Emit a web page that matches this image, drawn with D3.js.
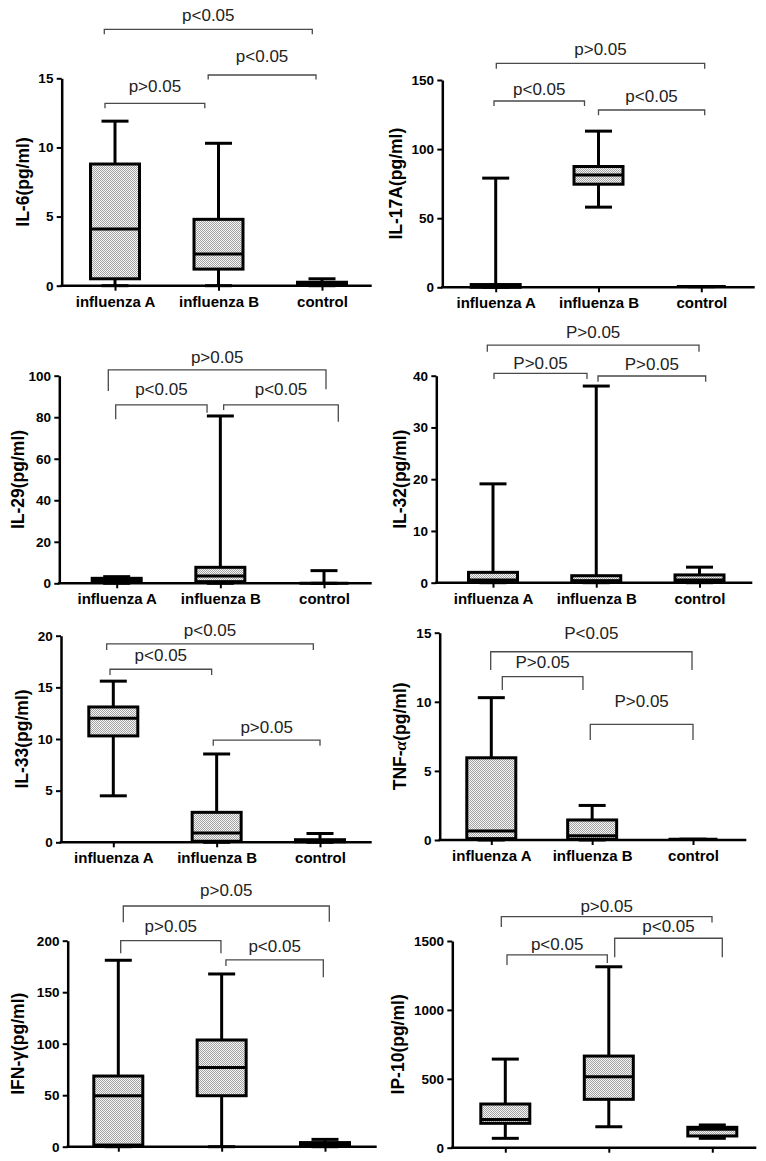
<!DOCTYPE html>
<html><head><meta charset="utf-8">
<script src="https://cdn.jsdelivr.net/npm/d3@7"></script>
<style>body{margin:0;background:#fff}svg{display:block}</style>
</head><body>
<script>
// ---------------- DATA ----------------
const categories = ["influenza A", "influenza B", "control"];
const markers = ["IL-6", "IL-17A", "IL-29", "IL-32", "IL-33", "TNF-α", "IFN-γ", "IP-10"];
const yMaxes = [15, 150, 100, 40, 20, 15, 200, 1500];
const yTickValues = [
  [0, 5, 10, 15], [0, 50, 100, 150], [0, 20, 40, 60, 80, 100], [0, 10, 20, 30, 40],
  [0, 5, 10, 15, 20], [0, 5, 10, 15], [0, 50, 100, 150, 200], [0, 500, 1000, 1500]
];
// per marker: [influenza A, influenza B, control]
const whiskerLow = [
  [0, 0, 0], [0, 58, 0.5], [0, 0, 0], [0, 0, 0],
  [4.5, 0, 0], [0, 0, 0.05], [0, 0, 0], [68, 152, 68]
];
const q1 = [
  [0.5, 1.2, 0.05], [0, 74.6, 0.5], [0.8, 0.8, 0], [0.4, 0.3, 0.3],
  [10.3, 0.1, 0.05], [0.1, 0.05, 0.05], [1.6, 49.5, 0.5], [177, 351, 85]
];
const medians = [
  [4.1, 2.3, 0.1], [0.5, 81.3, 0.5], [1.5, 3.5, 0], [0.5, 0.4, 0.5],
  [12.0, 0.9, 0.15], [0.65, 0.3, 0.05], [49.5, 77, 2], [205, 515, 134]
];
const q3 = [
  [8.8, 4.8, 0.25], [2, 87.4, 0.5], [2.4, 7.7, 0], [2.0, 1.35, 1.5],
  [13.1, 2.9, 0.25], [5.95, 1.45, 0.05], [68.6, 103.6, 4], [317, 665, 148]
];
const whiskerHigh = [
  [11.9, 10.3, 0.5], [79, 113, 0.5], [3.2, 80.6, 6.1], [19.1, 38, 3.0],
  [15.6, 8.55, 0.85], [10.3, 2.5, 0.05], [181, 167.7, 7.1], [643, 1313, 165]
];
// comparisons: [A vs B, B vs control, A vs control]
const pairs = [[0, 1], [1, 2], [0, 2]];
const pValueLabels = [
  ["p>0.05", "p<0.05", "p<0.05"], ["p<0.05", "p<0.05", "p>0.05"],
  ["p<0.05", "p<0.05", "p>0.05"], ["P>0.05", "P>0.05", "P>0.05"],
  ["p<0.05", "p>0.05", "p<0.05"], ["P>0.05", "P>0.05", "P<0.05"],
  ["p>0.05", "p<0.05", "p>0.05"], ["p<0.05", "p<0.05", "p>0.05"]
];
const showCategoryLabels = [true, true, true, true, true, true, false, false];

// ---------------- LAYOUT ----------------
const layout = [
  {axisX: 61.7, top: 78.3, bottom: 285.7, xEnd: 371.7, cA: 115, cC: 322, titleX: 23},
  {axisX: 442.3, top: 80, bottom: 287.3, xEnd: 754.7, cA: 495.7, cC: 701.3, titleX: 396},
  {axisX: 59.3, top: 375.7, bottom: 583.3, xEnd: 371.7, cA: 116.7, cC: 324, titleX: 17.5},
  {axisX: 436.3, top: 375.7, bottom: 582.7, xEnd: 752.3, cA: 493, cC: 699.5, titleX: 399.7},
  {axisX: 61, top: 635.7, bottom: 842.3, xEnd: 371.7, cA: 113.3, cC: 320, titleX: 21.7},
  {axisX: 439.7, top: 632.7, bottom: 840, xEnd: 746.3, cA: 491.3, cC: 693, titleX: 399.7},
  {axisX: 67.7, top: 940.7, bottom: 1146.7, xEnd: 376.7, cA: 118.3, cC: 325, titleX: 18.3},
  {axisX: 452.3, top: 941, bottom: 1147.7, xEnd: 756.3, cA: 505.3, cC: 712.3, titleX: 398}
];
// bracket geometry: level (axis units), x offsets from category centers, tick drops, text gap
const bracketLevels = [
  [13.19, 15.24, 18.54], [134.8, 128.3, 162.1], [85.9, 85.9, 102.8], [40.46, 39.94, 45.9],
  [16.75, 9.9, 19.2], [11.82, 8.37, 13.62], [200, 181.3, 233.7], [1399, 1520, 1677]
];
const bracketGeom = [
  [[-10, -13.7, 5, 5, 11.5], [-10.3, -6, 4.5, 4.5, 13], [-10.7, -9.7, 5, 5, 8]],
  [[-1.7, -14, 5, 5, 6], [0, 3.4, 5.3, 5.3, 8], [0.6, 3.4, 5.4, 5.4, 8]],
  [[-1, -13.3, 14.3, 7.7, 10], [3.3, 14.3, 5, 16.7, 10], [-8.4, 2, 21, 19.3, 7.3]],
  [[1, -9.25, 5.7, 5.7, 4], [1.75, 6.2, 5.7, 5.7, 6], [-5.7, -0.5, 6.7, 6.7, 6.7]],
  [[-3.3, -5, 5.7, 5.7, 8.3], [-3.4, 0, 5.7, 5.7, 6.7], [-6.6, -6.7, 6, 6, 8.3]],
  [[11, -9.2, 13.3, 13.3, 8.4], [-1.9, 0, 15.7, 15.7, 17], [-0.6, -1, 18.3, 18.3, 12.4]],
  [[2.4, -0.7, 12.6, 12.6, 9], [4.3, -1.7, 6, 17.3, 8.3], [5, 4.3, 16.3, 15.7, 10]],
  [[1.7, -1.5, 10, 8, 5], [5.9, 10, 19, 19, 6.6], [-4, -0.3, 10.3, 6, 5]]
];

const FONT = "'Liberation Sans', Arial, Helvetica, sans-serif";
const BOX_W = 49, CAP_W = 27;

const svg = d3.select("body").append("svg").attr("width", 766).attr("height", 1161)
  .style("background", "#fff");
const defs = svg.append("defs");
const pat = defs.append("pattern").attr("id", "dots").attr("width", 2).attr("height", 2)
  .attr("patternUnits", "userSpaceOnUse");
pat.append("rect").attr("width", 2).attr("height", 2).attr("fill", "#f6f6f6");
pat.append("rect").attr("width", 1).attr("height", 1).attr("fill", "#a2a2a2").attr("shape-rendering", "crispEdges");
pat.append("rect").attr("x", 1).attr("y", 1).attr("width", 1).attr("height", 1).attr("fill", "#a2a2a2").attr("shape-rendering", "crispEdges");

markers.forEach((m, p) => {
  const L = layout[p];
  const y = d3.scaleLinear().domain([0, yMaxes[p]]).range([L.bottom, L.top]);
  const x = d3.scalePoint().domain(categories).range([L.cA, L.cC]);
  const g = svg.append("g");

  // Y axis
  const ya = g.append("g").attr("transform", `translate(${L.axisX},0)`)
    .call(d3.axisLeft(y).tickValues(yTickValues[p]).tickSize(5).tickSizeOuter(0)
      .tickPadding(3.3).tickFormat(d3.format("d")))
    .attr("font-family", FONT).attr("font-size", 13.5).attr("font-weight", "bold");
  ya.select(".domain").attr("stroke", "#000").attr("stroke-width", 2.5);
  ya.selectAll(".tick line").attr("stroke", "#000").attr("stroke-width", 2);
  ya.selectAll(".tick text").attr("fill", "#000");

  // X axis (ticks + labels), baseline drawn separately
  const xa = g.append("g").attr("transform", `translate(0,${y(0)})`)
    .call(d3.axisBottom(x).tickSize(5).tickSizeOuter(0).tickPadding(5.4)
      .tickFormat(d => showCategoryLabels[p] ? d : ""))
    .attr("font-family", FONT).attr("font-size", 15).attr("font-weight", "bold");
  xa.select(".domain").remove();
  xa.selectAll(".tick line").attr("stroke", "#000").attr("stroke-width", 2);
  xa.selectAll(".tick text").attr("fill", "#000");
  g.append("line").attr("x1", L.axisX - 1.25).attr("x2", L.xEnd)
    .attr("y1", y(0)).attr("y2", y(0)).attr("stroke", "#000").attr("stroke-width", 2.5);

  // Y title
  const parts = m.split(/(α|γ)/);
  const t = g.append("text")
    .attr("transform", `translate(${L.titleX},${(L.top + L.bottom) / 2}) rotate(-90)`)
    .attr("text-anchor", "middle").attr("dominant-baseline", "central")
    .attr("font-family", FONT).attr("font-size", 17.5).attr("font-weight", "bold").attr("fill", "#000");
  parts.forEach(s => {
    if (!s) return;
    const ts = t.append("tspan").text(s);
    if (s === "α") ts.attr("font-style", "italic").attr("font-family", "'Liberation Serif', serif");
  });
  t.append("tspan").text("(pg/ml)");

  // Boxes
  categories.forEach((c, k) => {
    const cx = x(c);
    const bg = g.append("g");
    bg.append("line").attr("x1", cx).attr("x2", cx)
      .attr("y1", y(whiskerLow[p][k])).attr("y2", y(whiskerHigh[p][k]))
      .attr("stroke", "#000").attr("stroke-width", 3);
    [whiskerLow[p][k], whiskerHigh[p][k]].forEach(v => {
      bg.append("line").attr("x1", cx - CAP_W / 2).attr("x2", cx + CAP_W / 2)
        .attr("y1", y(v)).attr("y2", y(v)).attr("stroke", "#000").attr("stroke-width", 3);
    });
    bg.append("rect").attr("x", cx - BOX_W / 2).attr("width", BOX_W)
      .attr("y", y(q3[p][k])).attr("height", Math.max(0, y(q1[p][k]) - y(q3[p][k])))
      .attr("fill", "url(#dots)").attr("stroke", "#000").attr("stroke-width", 3);
    bg.append("line").attr("x1", cx - BOX_W / 2).attr("x2", cx + BOX_W / 2)
      .attr("y1", y(medians[p][k])).attr("y2", y(medians[p][k]))
      .attr("stroke", "#000").attr("stroke-width", 3);
  });

  // Significance brackets
  pairs.forEach(([i, j], b) => {
    const [xl, xr, dl, dr, gap] = bracketGeom[p][b];
    const x1 = x(categories[i]) + xl, x2 = x(categories[j]) + xr;
    const yy = y(bracketLevels[p][b]);
    g.append("path").attr("d", `M${x1},${yy + dl}V${yy}H${x2}V${yy + dr}`)
      .attr("fill", "none").attr("stroke", "#4a4a4a").attr("stroke-width", 1.3);
    g.append("text").attr("x", (x1 + x2) / 2).attr("y", yy - gap)
      .attr("text-anchor", "middle").attr("font-family", FONT).attr("font-size", 17)
      .attr("fill", "#222").text(pValueLabels[p][b]);
  });
});
</script>
</body></html>
